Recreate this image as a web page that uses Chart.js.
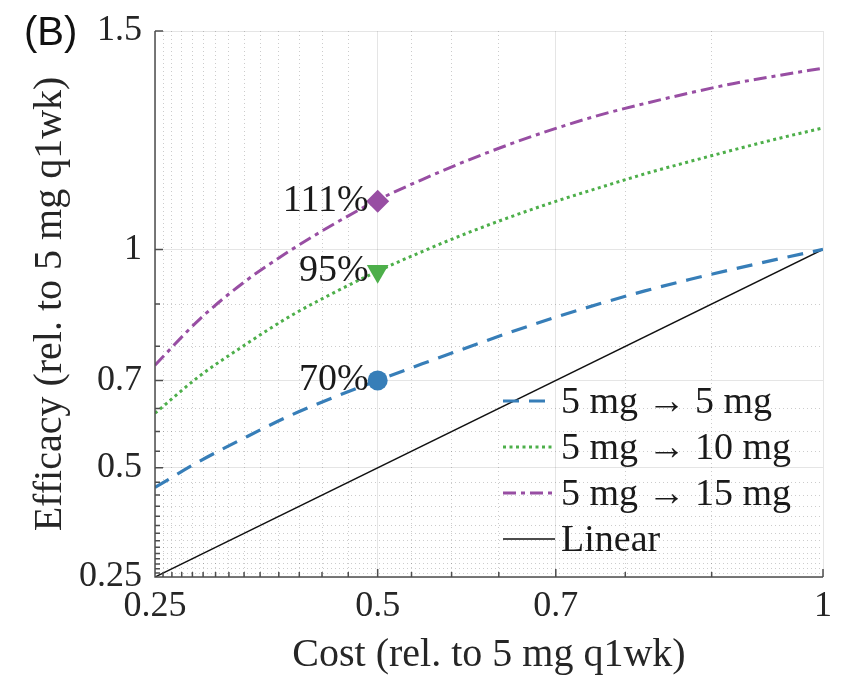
<!DOCTYPE html>
<html>
<head>
<meta charset="utf-8">
<script src="https://cdn.jsdelivr.net/npm/chart.js@4.4.1/dist/chart.umd.min.js"></script>
<style>
  html, body { margin: 0; padding: 0; background: #fff; }
  #wrap { width: 844px; height: 675px; position: relative; }
</style>
</head>
<body>
<div id="wrap"><canvas id="efficacyChart" width="844" height="675"></canvas></div>
<script>
// cost relative to 5 mg q1wk
const costs    = [0.25, 0.30, 0.35, 0.40, 0.45, 0.50, 0.55, 0.60, 0.65, 0.70, 0.75, 0.80, 0.85, 0.90, 0.95, 1.00];
const eff5to5  = [0.455, 0.515, 0.568, 0.618, 0.661, 0.700, 0.738, 0.775, 0.811, 0.845, 0.876, 0.905, 0.931, 0.955, 0.978, 1.000];
const eff5to10 = [0.625, 0.710, 0.780, 0.845, 0.900, 0.950, 0.995, 1.037, 1.075, 1.110, 1.142, 1.173, 1.201, 1.228, 1.254, 1.278];
const eff5to15 = [0.735, 0.840, 0.925, 0.995, 1.057, 1.113, 1.160, 1.203, 1.242, 1.277, 1.308, 1.334, 1.358, 1.380, 1.398, 1.415];
const linearCost = [0.25, 1.00];
const linearEff  = [0.25, 1.00];

// highlighted points at half cost
const markerCost   = [0.5, 0.5, 0.5];
const markerEff    = [0.70, 0.95, 1.11];
const markerLabels = ['70%', '95%', '111%'];

const xMajorTicks = [0.25, 0.5, 0.7, 1];
const yMajorTicks = [0.25, 0.5, 0.7, 1, 1.5];
const minorTicks  = [0.259, 0.269, 0.28, 0.292, 0.304, 0.318, 0.333, 0.35, 0.368, 0.389, 0.412, 0.4375, 0.467, 0.538, 0.583, 0.636, 0.778, 0.875];

const serif = "'Liberation Serif', 'DejaVu Serif', serif";
const BLUE = '#377eb8', GREEN = '#4daf4a', PURPLE = '#984ea3';

function toPoints(xs, ys) {
    return xs.map((x, i) => ({ x: x, y: ys[i] }));
}
function isMajor(list, v) {
    return list.some(m => Math.abs(m - v) < 1e-6);
}
function allTicks(major) {
    return major.concat(minorTicks).sort((a, b) => a - b).map(v => ({ value: v }));
}

// MATLAB style axes: left/bottom lines with inward ticks
const axesPlugin = {
    id: 'axesPlugin',
    afterDatasetsDraw(chart) {
        const { ctx, chartArea: a, scales: { x, y } } = chart;
        ctx.save();
        ctx.setLineDash([]);
        ctx.strokeStyle = '#4d4d4d';
        ctx.lineWidth = 1.5;
        ctx.beginPath();
        ctx.moveTo(a.left, a.top);
        ctx.lineTo(a.left, a.bottom);
        ctx.lineTo(a.right, a.bottom);
        x.ticks.forEach(t => {
            const px = x.getPixelForValue(t.value);
            const len = isMajor(xMajorTicks, t.value) ? 8 : 5;
            ctx.moveTo(px, a.bottom);
            ctx.lineTo(px, a.bottom - len);
        });
        y.ticks.forEach(t => {
            const py = y.getPixelForValue(t.value);
            const len = isMajor(yMajorTicks, t.value) ? 8 : 5;
            ctx.moveTo(a.left, py);
            ctx.lineTo(a.left + len, py);
        });
        ctx.stroke();
        ctx.restore();
    }
};

// percent labels left of the markers
const pointLabelPlugin = {
    id: 'pointLabels',
    afterDatasetsDraw(chart) {
        const ctx = chart.ctx;
        ctx.save();
        ctx.font = '38px ' + serif;
        ctx.fillStyle = '#1a1a1a';
        ctx.textAlign = 'right';
        ctx.textBaseline = 'alphabetic';
        chart.data.datasets.forEach((ds, i) => {
            if (!ds.pointLabel) return;
            const pt = chart.getDatasetMeta(i).data[0];
            ctx.fillText(ds.pointLabel, pt.x - 9, pt.y + 10);
        });
        ctx.restore();
    }
};

// legend drawn inside the plot, no box
const lineLegend = {
    id: 'lineLegend',
    afterDraw(chart) {
        const { ctx, chartArea: a } = chart;
        const items = chart.data.datasets.filter(d => d.inLegend);
        const x0 = a.right - 320, x1 = a.right - 268, top = 401, step = 46;
        ctx.save();
        items.forEach((d, i) => {
            const yy = top + i * step;
            ctx.strokeStyle = d.borderColor;
            ctx.lineWidth = d.borderWidth;
            ctx.setLineDash(d.borderDash || []);
            ctx.beginPath();
            ctx.moveTo(x0, yy);
            ctx.lineTo(x1, yy);
            ctx.stroke();
            ctx.setLineDash([]);
            ctx.font = '38px ' + serif;
            ctx.fillStyle = '#1a1a1a';
            ctx.textAlign = 'left';
            ctx.textBaseline = 'alphabetic';
            ctx.fillText(d.label, x1 + 6, yy + 12);
        });
        // panel letter
        ctx.font = '40px "Liberation Sans", Arial, sans-serif';
        ctx.fillStyle = '#111';
        ctx.fillText('(B)', 24, 45);
        ctx.restore();
    }
};

const ctx = document.getElementById('efficacyChart').getContext('2d');
const efficacyChart = new Chart(ctx, {
    type: 'line',
    data: {
        datasets: [
            {
                label: '70', data: toPoints([markerCost[0]], [markerEff[0]]), pointLabel: markerLabels[0],
                showLine: false, pointStyle: 'circle', pointRadius: 10,
                backgroundColor: BLUE, borderColor: BLUE, borderWidth: 0, order: 0
            },
            {
                label: '95', data: toPoints([markerCost[1]], [markerEff[1]]), pointLabel: markerLabels[1],
                showLine: false, pointStyle: 'triangle', pointRotation: 180, pointRadius: 12.5,
                backgroundColor: GREEN, borderColor: GREEN, borderWidth: 0, order: 0
            },
            {
                label: '111', data: toPoints([markerCost[2]], [markerEff[2]]), pointLabel: markerLabels[2],
                showLine: false, pointStyle: 'rectRot', pointRadius: 11.5,
                backgroundColor: PURPLE, borderColor: PURPLE, borderWidth: 0, order: 0
            },
            {
                label: '5 mg \u2192 5 mg', data: toPoints(costs, eff5to5), inLegend: true,
                borderColor: BLUE, borderWidth: 3.2, borderDash: [16, 10], pointRadius: 0,
                cubicInterpolationMode: 'monotone', order: 1
            },
            {
                label: '5 mg \u2192 10 mg', data: toPoints(costs, eff5to10), inLegend: true,
                borderColor: GREEN, borderWidth: 3, borderDash: [3, 3.5], pointRadius: 0,
                cubicInterpolationMode: 'monotone', order: 1
            },
            {
                label: '5 mg \u2192 15 mg', data: toPoints(costs, eff5to15), inLegend: true,
                borderColor: PURPLE, borderWidth: 3, borderDash: [13, 5, 4, 5], pointRadius: 0,
                cubicInterpolationMode: 'monotone', order: 1
            },
            {
                label: 'Linear', data: toPoints(linearCost, linearEff), inLegend: true,
                borderColor: '#111111', borderWidth: 1.5, pointRadius: 0, order: 1
            }
        ]
    },
    options: {
        responsive: false,
        animation: false,
        devicePixelRatio: 1,
        layout: { padding: { top: 31, right: 19, left: 0, bottom: 0 } },
        plugins: {
            legend: { display: false },
            tooltip: { enabled: false }
        },
        scales: {
            x: {
                type: 'linear', min: 0.25, max: 1,
                afterBuildTicks: s => { s.ticks = allTicks(xMajorTicks); },
                afterFit: s => { s.height = 98; },
                ticks: {
                    autoSkip: false, maxRotation: 0, padding: 12, color: '#262626',
                    font: { family: serif, size: 36, lineHeight: 1 },
                    callback: v => isMajor(xMajorTicks, v) ? String(v) : ''
                },
                grid: {
                    drawTicks: false, lineWidth: 1,
                    color: c => isMajor(xMajorTicks, c.tick.value) ? 'rgba(0,0,0,0.1)' : 'rgba(0,0,0,0.2)'
                },
                border: { display: false, dash: c => isMajor(xMajorTicks, c.tick.value) ? [] : [1, 3] },
                title: {
                    display: true, text: 'Cost (rel. to 5 mg q1wk)', color: '#262626',
                    font: { family: serif, size: 40, lineHeight: 1 }, padding: { top: 0, bottom: 0 }
                }
            },
            y: {
                type: 'linear', min: 0.25, max: 1.5,
                afterBuildTicks: s => { s.ticks = allTicks(yMajorTicks); },
                afterFit: s => { s.width = 155; },
                ticks: {
                    autoSkip: false, padding: 13, color: '#262626',
                    font: { family: serif, size: 36, lineHeight: 1 },
                    callback: v => isMajor(yMajorTicks, v) ? String(v) : ''
                },
                grid: {
                    drawTicks: false, lineWidth: 1,
                    color: c => isMajor(yMajorTicks, c.tick.value) ? 'rgba(0,0,0,0.1)' : 'rgba(0,0,0,0.2)'
                },
                border: { display: false, dash: c => isMajor(yMajorTicks, c.tick.value) ? [] : [1, 3] },
                title: {
                    display: true, text: 'Efficacy (rel. to 5 mg q1wk)', color: '#262626',
                    font: { family: serif, size: 40, lineHeight: 1 }, padding: { top: 30, bottom: 0 }
                }
            }
        }
    },
    plugins: [axesPlugin, pointLabelPlugin, lineLegend]
});
</script>
</body>
</html>
